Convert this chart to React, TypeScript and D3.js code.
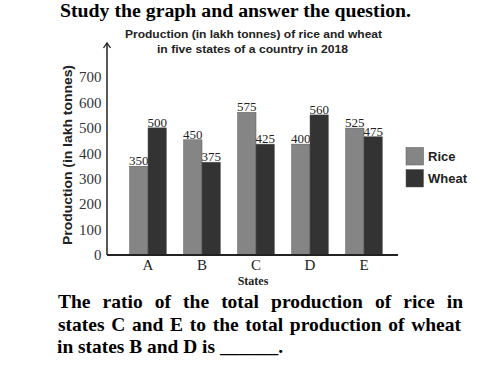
import React, { useLayoutEffect, useRef } from "react";
import * as d3 from "d3";

// data
const states = ["A", "B", "C", "D", "E"];
// bar heights as drawn
const riceBars = [349, 453, 561, 436, 499];
const wheatBars = [500, 365, 436, 551, 465];
// value labels printed above the bars
const riceLabels = ["350", "450", "575", "400", "525"];
const wheatLabels = ["500", "375", "425", "560", "475"];
const yTicks = [0, 100, 200, 300, 400, 500, 600, 700];
const seriesNames = ["Rice", "Wheat"];
const seriesColors = ["#858585", "#333333"];

const questionLines = [
  "The ratio of the total production of rice in",
  "states C and E to the total production of wheat",
  "in states B and D is ______.",
];

const W = 498;
const H = 385;
const serif = "'Liberation Serif', 'Times New Roman', serif";
const sans = "'Liberation Sans', Arial, sans-serif";

export default function App() {
  const qRefs = useRef<(SVGTextElement | null)[]>([]);

  // justify the first two question lines with word spacing, like the original
  useLayoutEffect(() => {
    const targets = [405, 403];
    targets.forEach((t, i) => {
      const el = qRefs.current[i];
      if (!el) return;
      const gaps = questionLines[i].split(" ").length - 1;
      const natural = el.getComputedTextLength();
      el.setAttribute("word-spacing", String((t - natural) / gaps));
    });
  }, []);

  const x = d3.scaleBand().domain(states).range([121, 391]).paddingInner(0.32).paddingOuter(0.16);
  const y = d3.scaleLinear().domain([0, 700]).range([255, 77]);
  const sub = d3.scaleBand().domain(seriesNames).range([0, x.bandwidth()]);

  const series = [
    { name: "Rice", bars: riceBars, labels: riceLabels },
    { name: "Wheat", bars: wheatBars, labels: wheatLabels },
  ];

  const axisX0 = 107;
  const axisTop = 43;

  return (
    <svg width={W} height={H} style={{ position: "absolute", left: 0, top: 0, background: "#fff" }}>
      {/* header */}
      <text x={60} y={17} fontFamily={serif} fontWeight="bold" fontSize={18.5} textLength={351} lengthAdjust="spacingAndGlyphs">
        Study the graph and answer the question.
      </text>
      <text x={253.5} y={38} textAnchor="middle" fontFamily={sans} fontWeight="bold" fontSize={11.5} fill="#222" textLength={257} lengthAdjust="spacingAndGlyphs">
        Production (in lakh tonnes) of rice and wheat
      </text>
      <text x={252.5} y={53} textAnchor="middle" fontFamily={sans} fontWeight="bold" fontSize={11.5} fill="#222" textLength={191} lengthAdjust="spacingAndGlyphs">
        in five states of a country in 2018
      </text>

      {/* bars */}
      {series.map((s, si) =>
        states.map((st, i) => {
          const bx = (x(st) as number) + (sub(s.name) as number);
          const top = y(s.bars[i]);
          return (
            <g key={s.name + st}>
              <rect x={bx} y={top} width={sub.bandwidth()} height={y(0) - top} fill={seriesColors[si]} stroke="#555" strokeWidth={0.5} />
              <text x={bx + sub.bandwidth() / 2} y={top - 1} textAnchor="middle" fontFamily={serif} fontSize={13} fill="#222">
                {s.labels[i]}
              </text>
            </g>
          );
        })
      )}

      {/* axes */}
      <line x1={axisX0} y1={y(0)} x2={398} y2={y(0)} stroke="#222" strokeWidth={2} />
      <line x1={axisX0} y1={y(0)} x2={axisX0} y2={axisTop} stroke="#222" strokeWidth={1.5} />
      <polyline points={`${axisX0 - 3.5},${axisTop + 5} ${axisX0},${axisTop} ${axisX0 + 3.5},${axisTop + 5}`} fill="none" stroke="#222" strokeWidth={1.3} />

      {yTicks.map((t) => (
        <text key={t} x={101.5} y={y(t)} dy="0.35em" textAnchor="end" fontFamily={serif} fontSize={15} fill="#333">
          {t}
        </text>
      ))}
      {states.map((st) => (
        <text key={st} x={(x(st) as number) + x.bandwidth() / 2} y={270} textAnchor="middle" fontFamily={serif} fontSize={15} fill="#222">
          {st}
        </text>
      ))}
      <text x={253} y={285} textAnchor="middle" fontFamily={serif} fontWeight="bold" fontSize={12} fill="#222">
        States
      </text>
      <text transform="translate(72,155) rotate(-90)" textAnchor="middle" fontFamily={sans} fontWeight="bold" fontSize={12.5} fill="#222" textLength={180} lengthAdjust="spacingAndGlyphs">
        Production (in lakh tonnes)
      </text>

      {/* legend */}
      {seriesNames.map((n, i) => (
        <g key={n} transform={`translate(406,${147.5 + i * 22})`}>
          <rect width={17.5} height={17.5} fill={seriesColors[i]} stroke="#555" strokeWidth={0.5} />
          <text x={22} y={9} dy="0.35em" fontFamily={sans} fontWeight="bold" fontSize={13} fill="#222">
            {n}
          </text>
        </g>
      ))}

      {/* question */}
      {questionLines.map((line, i) => (
        <text
          key={i}
          ref={(el) => {
            qRefs.current[i] = el;
          }}
          x={i === 2 ? 57 : 58}
          y={308.3 + i * 22.5}
          fontFamily={serif}
          fontWeight="bold"
          fontSize={19.5}
          textLength={i === 2 ? 226 : undefined}
          lengthAdjust="spacingAndGlyphs"
        >
          {line}
        </text>
      ))}
    </svg>
  );
}
